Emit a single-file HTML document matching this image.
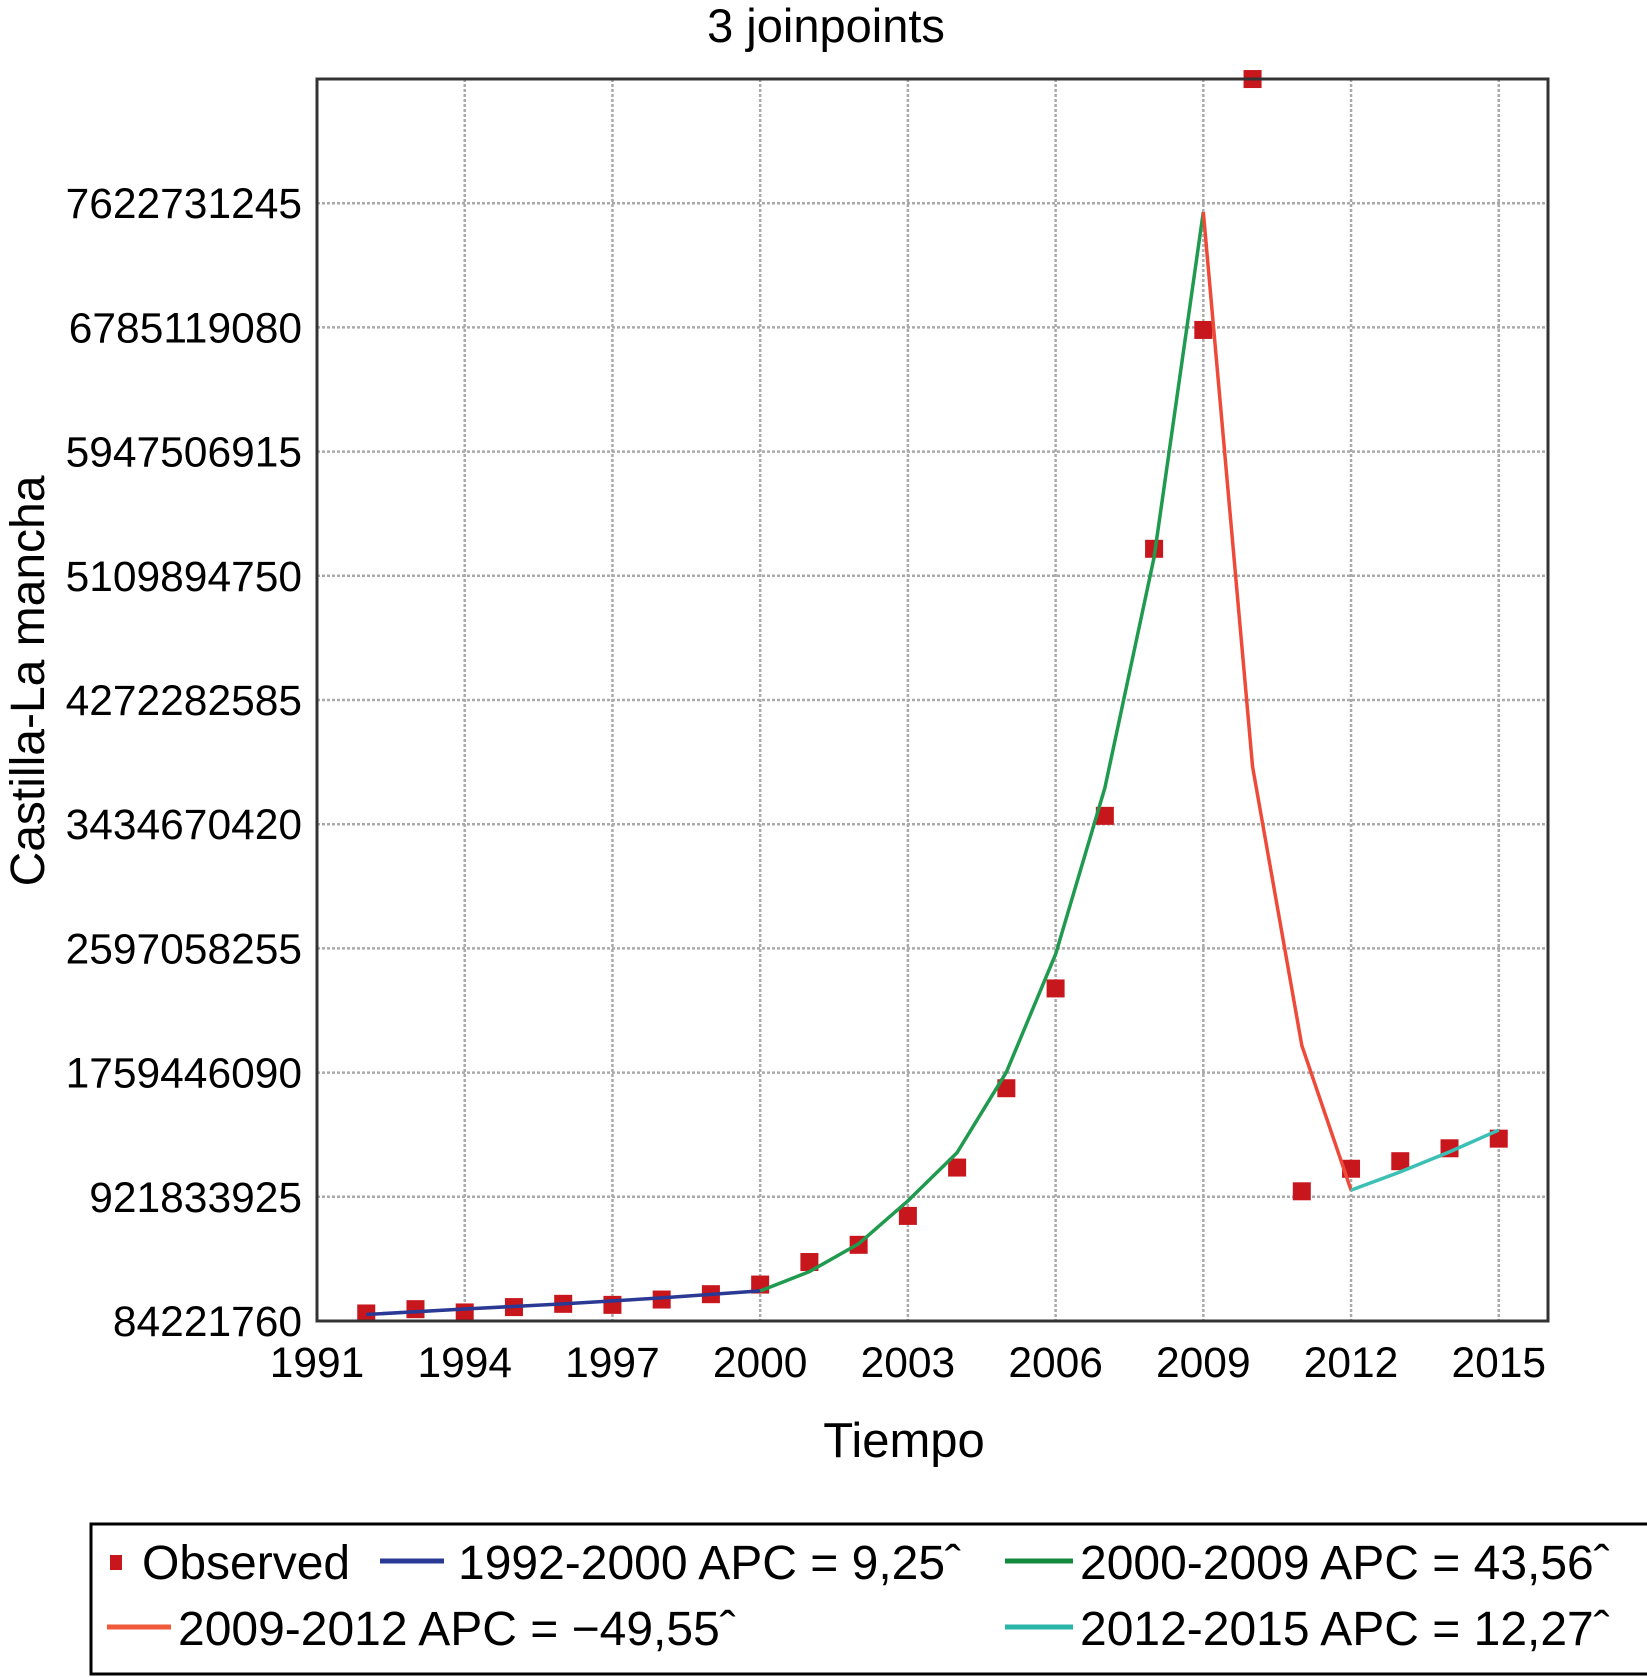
<!DOCTYPE html>
<html><head><meta charset="utf-8"><style>
html,body{margin:0;padding:0;background:#fff;}
svg{display:block;font-family:"Liberation Sans",Arial,sans-serif;}
</style></head><body>
<svg id="chart" width="1647" height="1677" viewBox="0 0 1647 1677">
<text x="826" y="42" font-size="47" text-anchor="middle">3 joinpoints</text>
<text transform="translate(44,681) rotate(-90)" font-size="48" text-anchor="middle">Castilla-La mancha</text>
<text x="904" y="1457" font-size="49" text-anchor="middle">Tiempo</text>
<g id="grid"></g>
<g id="yticks"></g>
<g id="xticks"></g>
<g id="series"></g>
<rect x="317" y="79" width="1231" height="1242" fill="none" stroke="#333" stroke-width="3"/>
<g>
<rect x="91" y="1524" width="1560" height="150" fill="#fff" stroke="#000" stroke-width="3"/>
<rect x="110" y="1555" width="12" height="15" fill="#c8161d"/>
<text x="142" y="1579" font-size="48">Observed</text>
<line x1="380" y1="1561" x2="444" y2="1561" stroke="#2a3a94" stroke-width="5"/>
<text x="458" y="1579" font-size="48">1992-2000 APC = 9,25ˆ</text>
<line x1="1005" y1="1561" x2="1073" y2="1561" stroke="#138a3e" stroke-width="5"/>
<text x="1080" y="1579" font-size="48">2000-2009 APC = 43,56ˆ</text>
<line x1="107" y1="1627" x2="171" y2="1627" stroke="#ee5a3a" stroke-width="5"/>
<text x="178" y="1645" font-size="48">2009-2012 APC = −49,55ˆ</text>
<line x1="1005" y1="1627" x2="1073" y2="1627" stroke="#2ab5a8" stroke-width="5"/>
<text x="1080" y="1645" font-size="48">2012-2015 APC = 12,27ˆ</text>
</g>
</svg>
<script>
const years = [1992,1993,1994,1995,1996,1997,1998,1999,2000,2001,2002,2003,2004,2005,2006,2007,2008,2009,2010,2011,2012,2013,2014,2015];
const observed = [135e6,164e6,142e6,178e6,200e6,193e6,229e6,265e6,330e6,482e6,598e6,793e6,1119e6,1654e6,2327e6,3491e6,5292e6,6768e6,8460e6,959e6,1111e6,1162e6,1249e6,1314e6];
const fit1Years = [1992,1994,1996,1998,2000];
const fit1Values = [128e6,165e6,200e6,240e6,287e6];
const fit2Years = [2000,2001,2002,2003,2004,2005,2006,2007,2008,2009];
const fit2Values = [287e6,417e6,605e6,894e6,1220e6,1762e6,2558e6,3679e6,5234e6,7563e6];
const fit3Years = [2009,2010,2011,2012];
const fit3Values = [7563e6,3823e6,1943e6,967e6];
const fit4Years = [2012,2013,2014,2015];
const fit4Values = [967e6,1090e6,1225e6,1372e6];
const yTicks = [84221760,921833925,1759446090,2597058255,3434670420,4272282585,5109894750,5947506915,6785119080,7622731245];
const xTicks = [1991,1994,1997,2000,2003,2006,2009,2012,2015];

const X0=317, X1=1548, Y0=1321, Y1=79;
const xMin=1991, xMax=2016, yMin=84221760, yMax=8460343410;
function xs(v){return X0+(v-xMin)/(xMax-xMin)*(X1-X0);}
function ys(v){return Y0-(v-yMin)/(yMax-yMin)*(Y0-Y1);}
const NS="http://www.w3.org/2000/svg";
function mk(tag,attrs,parent){const e=document.createElementNS(NS,tag);for(const k in attrs)e.setAttribute(k,attrs[k]);parent.appendChild(e);return e;}
const grid=document.getElementById('grid'), yt=document.getElementById('yticks'), xt=document.getElementById('xticks'), ser=document.getElementById('series');
yTicks.forEach((v,i)=>{
  if(i>0){const l=mk('line',{x1:X0,x2:X1,y1:ys(v),y2:ys(v),stroke:'#aaa','stroke-width':2.5,'stroke-dasharray':'3,2'},grid);
  
  }
  const t=mk('text',{x:302,y:ys(v)+15,'font-size':42.5,'text-anchor':'end'},yt);
  t.textContent=String(v);
  
  
});
xTicks.forEach((v,i)=>{
  if(i>0){const l=mk('line',{x1:xs(v),x2:xs(v),y1:Y1,y2:Y0,stroke:'#aaa','stroke-width':2.5,'stroke-dasharray':'3,2'},grid);
  
  }
  const t=mk('text',{x:xs(v),y:1377,'font-size':42.5,'text-anchor':'middle'},xt);
  t.textContent=String(v);
  
  
});
function line(yrs,vals,color,name){
  const p=mk('polyline',{points:yrs.map((y,i)=>xs(y)+','+ys(vals[i])).join(' '),fill:'none',stroke:color,'stroke-width':3.5,'stroke-linejoin':'round'},ser);
  
  
}
years.forEach((y,i)=>{
  const r=mk('rect',{x:xs(y)-9,y:ys(observed[i])-9,width:18,height:18,fill:'#c8161d'},ser);
  
  
});
line(fit1Years,fit1Values,'#2a3a94','fit-1992-2000');
line(fit2Years,fit2Values,'#1f9a4e','fit-2000-2009');
line(fit3Years,fit3Values,'#ee4a3a','fit-2009-2012');
line(fit4Years,fit4Values,'#3cc0b5','fit-2012-2015');
</script>
</body></html>
